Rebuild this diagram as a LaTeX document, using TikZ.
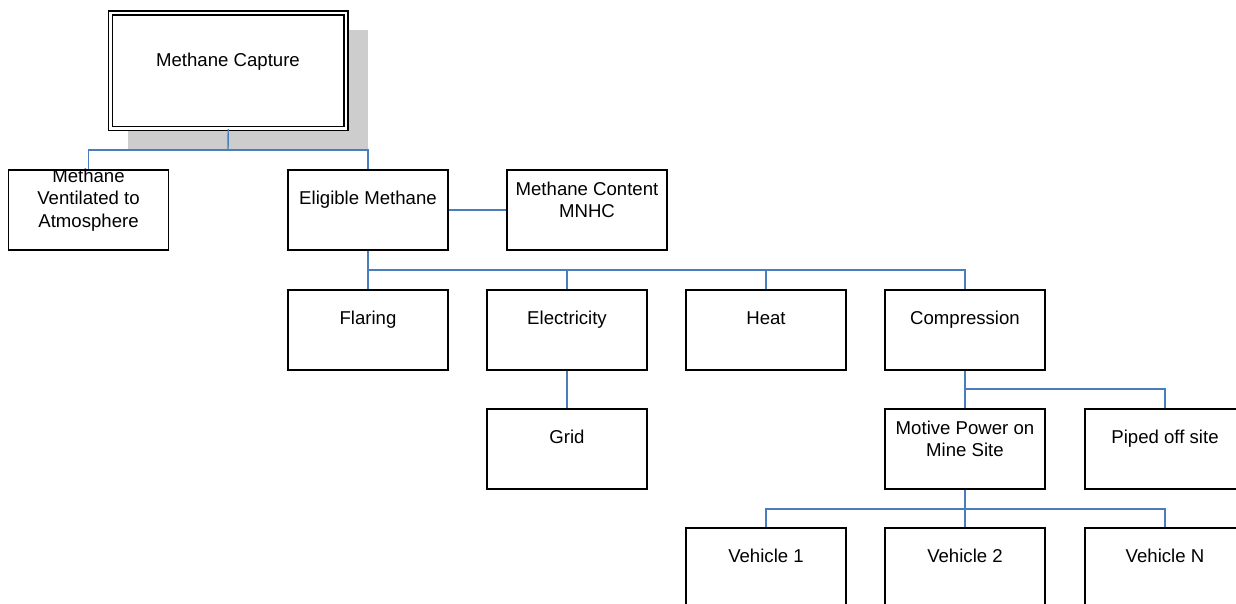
\documentclass[tikz,border=0pt]{standalone}
\usepackage{fontspec}
\setmainfont{Liberation Sans}
\definecolor{linkblue}{HTML}{4A7EBB}
\definecolor{shadowgray}{HTML}{CDCDCD}
\begin{document}
\begin{tikzpicture}[x=1pt,y=-1pt,
  box/.style={draw=black, line width=1.3pt, fill=white, minimum width=160pt, minimum height=80pt, inner sep=0pt},
  link/.style={draw=linkblue, line width=1.4pt},
  lbl/.style={font=\fontsize{18.6}{22.5}\selectfont, align=center},
  tl/.style={lbl, anchor=center, yshift=-30.5pt}
]
\useasboundingbox (0,0) rectangle (1236,604);
\clip (0,0) rectangle (1236,604);
\fill[white] (0,0) rectangle (1236,604);
% shadow of top box
\fill[shadowgray] (128,30) rectangle (368,150);
% top box
\node[draw=black, line width=1.5pt, double=white, double distance=2.2pt, fill=white,
      minimum width=235.5pt, minimum height=115.5pt, inner sep=0pt] (cap) at (228.25,70.75) {};
\node[lbl] (captxt) at (228,61.5) {Methane Capture};
% second row
\node[box, label={[tl]north:Methane\\Ventilated to\\Atmosphere}] (vent) at (88.5,210) {};
\node[box, label={[tl]north:Eligible Methane}] (elig) at (368,210) {};
\node[box, label={[tl]north:Methane Content\\MNHC}] (cont) at (587,210) {};
% third row
\node[box, label={[tl]north:Flaring}] (flar) at (368,330) {};
\node[box, label={[tl]north:Electricity}] (elec) at (567,330) {};
\node[box, label={[tl]north:Heat\vphantom{g}}] (heat) at (766,330) {};
\node[box, label={[tl]north:Compression}] (comp) at (965,330) {};
% fourth row
\node[box, label={[tl]north:Grid\vphantom{g}}] (grid) at (567,449) {};
\node[box, label={[tl]north:Motive Power on\\Mine Site}] (motive) at (965,449) {};
\node[box, label={[tl]north:Piped off site}] (piped) at (1165,449) {};
% fifth row
\node[box, label={[tl]north:Vehicle 1\vphantom{g}}] (v1) at (766,568) {};
\node[box, label={[tl]north:Vehicle 2\vphantom{g}}] (v2) at (965,568) {};
\node[box, label={[tl]north:Vehicle N\vphantom{g}}] (vN) at (1165,568) {};
% bus points
\coordinate (b1) at (228,150);
\coordinate (b2) at (368,270);
\coordinate (b3) at (965,389);
\coordinate (b4) at (965,509);
% connectors
\draw[link] (cap.south) -- (b1);
\draw[link] (vent.north) |- (b1) -| (elig.north);
\draw[link] (elig.east) -- (cont.west);
\draw[link] (elig.south) -- (flar.north);
\draw[link] (b2) -| (elec.north);
\draw[link] (b2) -| (heat.north);
\draw[link] (b2) -| (comp.north);
\draw[link] (elec.south) -- (grid.north);
\draw[link] (comp.south) -- (motive.north);
\draw[link] (b3) -| (piped.north);
\draw[link] (motive.south) -- (v2.north);
\draw[link] (b4) -| (v1.north);
\draw[link] (b4) -| (vN.north);
\end{tikzpicture}
\end{document}
